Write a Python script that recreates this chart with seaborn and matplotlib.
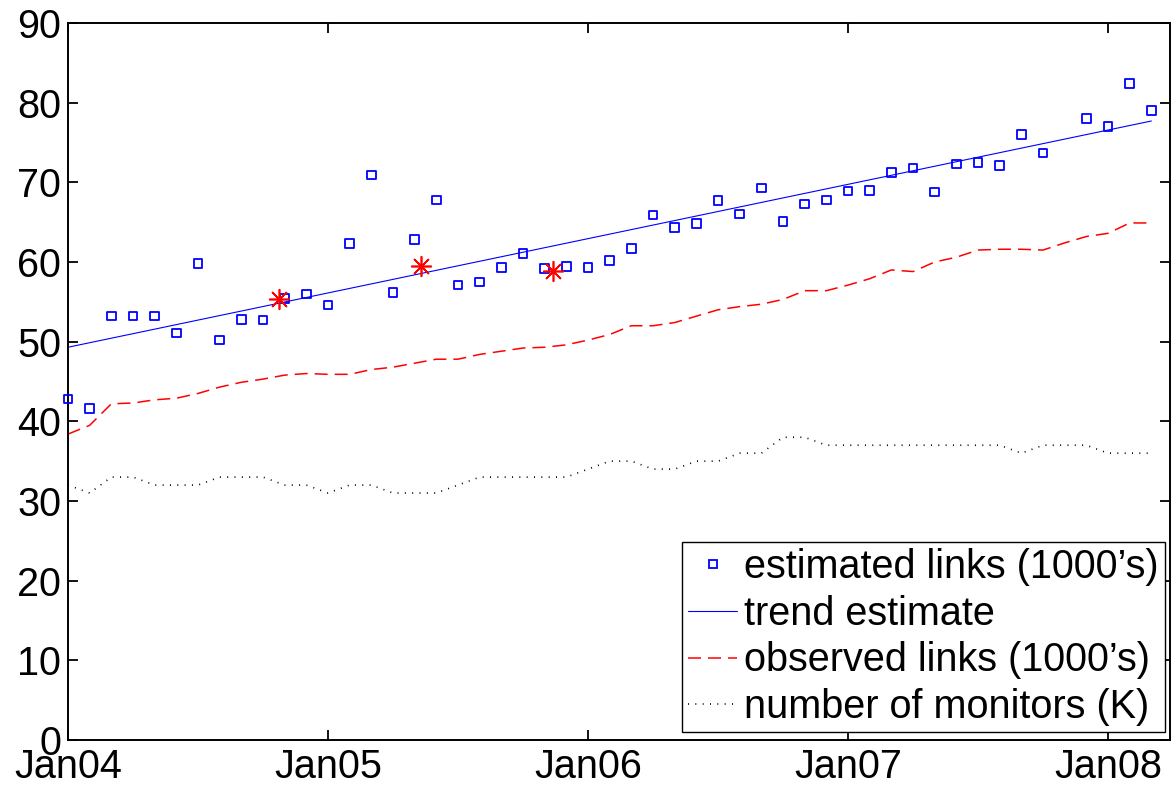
import matplotlib
matplotlib.use("Agg")
import matplotlib.pyplot as plt
from matplotlib.lines import Line2D
import seaborn as sns

# ---------------- data ----------------
tick_months = [0, 12, 24, 36, 48]
tick_labels = ["Jan04", "Jan05", "Jan06", "Jan07", "Jan08"]

est_months = list(range(0, 46)) + [47, 48, 49, 50]
est_links = [42.8, 41.6, 53.2, 53.2, 53.2, 51.1, 59.8, 50.2, 52.8, 52.7,
             55.4, 56.0, 54.6, 62.3, 70.9, 56.2, 62.8, 67.8, 57.1, 57.5,
             59.3, 61.1, 59.2, 59.4, 59.3, 60.2, 61.7, 65.9, 64.3, 64.8,
             67.7, 66.0, 69.3, 65.1, 67.3, 67.8, 68.9, 69.0, 71.2, 71.8,
             68.8, 72.3, 72.5, 72.1, 76.0, 73.7, 78.0, 77.0, 82.4, 79.0]

trend_months = [0, 50]
trend_vals = [49.3, 77.7]

obs_months = list(range(0, 51))
obs_links = [38.4, 39.5, 42.2, 42.3, 42.7, 42.9, 43.5, 44.3, 44.9, 45.3,
             45.8, 46.0, 45.9, 45.9, 46.5, 46.8, 47.3, 47.8, 47.8, 48.4,
             48.8, 49.2, 49.3, 49.6, 50.2, 50.9, 52.0, 52.0, 52.4, 53.2,
             54.0, 54.4, 54.7, 55.3, 56.4, 56.4, 57.1, 57.9, 59.0, 58.8,
             60.0, 60.6, 61.5, 61.6, 61.6, 61.5, 62.4, 63.2, 63.6, 64.9, 64.9]

monitors = [32, 31, 33, 33, 32, 32, 32, 33, 33, 33,
            32, 32, 31, 32, 32, 31, 31, 31, 32, 33,
            33, 33, 33, 33, 34, 35, 35, 34, 34, 35,
            35, 36, 36, 38, 38, 37, 37, 37, 37, 37,
            37, 37, 37, 37, 36, 37, 37, 37, 36, 36, 36]

star_months = [9.74, 16.3, 22.4]
star_vals = [55.4, 59.5, 58.9]

labels = ["estimated links (1000\u2019s)", "trend estimate",
          "observed links (1000\u2019s)", "number of monitors (K)"]

# ---------------- style ----------------
sns.set_style("ticks")
plt.rcParams["font.family"] = ["Liberation Sans", "DejaVu Sans"]
plt.rcParams["text.color"] = "black"
plt.rcParams["axes.labelcolor"] = "black"
FS = 28.5

fig = plt.figure(figsize=(11.71, 7.85), dpi=100)
ax = fig.add_axes([68 / 1171, 45 / 785, 1102 / 1171, 717 / 785])

dash_style = (0, (8.5, 4.6))
dot_style = (0, (0.6, 3.8))

sns.lineplot(x=obs_months, y=monitors, ax=ax, color="black",
             linewidth=1.2, linestyle=dot_style)
sns.lineplot(x=obs_months, y=obs_links, ax=ax, color="red",
             linewidth=1.1, linestyle=dash_style)
sns.lineplot(x=trend_months, y=trend_vals, ax=ax, color="blue",
             linewidth=0.8)
sns.scatterplot(x=est_months, y=est_links, ax=ax, marker="s", s=38,
                facecolor="none", edgecolor="blue", linewidth=1.3,
                clip_on=False, zorder=3)
sns.scatterplot(x=star_months, y=star_vals, ax=ax, marker=(8, 2, 0), s=200,
                color="red", edgecolor="red", linewidth=1.2, zorder=4)

ax.set_xlim(0, 50.86)
ax.set_ylim(0, 90)
ax.set_xticks(tick_months)
ax.set_xticklabels(tick_labels)
ax.set_yticks(range(0, 91, 10))
ax.set_xlabel("")
ax.set_ylabel("")

for sp in ax.spines.values():
    sp.set_visible(True)
    sp.set_linewidth(1.4)
    sp.set_color("black")

ax.tick_params(axis="both", direction="in", length=7.5, width=1.3,
               top=True, right=True, labelsize=FS, colors="black")
ax.tick_params(axis="y", pad=5)
ax.tick_params(axis="x", pad=6)

handles = [
    Line2D([], [], color="blue", marker="s", linestyle="none",
           markerfacecolor="none", markersize=6, markeredgewidth=1.3),
    Line2D([], [], color="blue", linewidth=0.8),
    Line2D([], [], color="red", linewidth=1.1, linestyle=dash_style),
    Line2D([], [], color="black", linewidth=1.2, linestyle=dot_style),
]
leg = ax.legend(handles, labels, loc="lower right",
                bbox_to_anchor=((1165 - 68) / 1102, (740 - 732) / 717),
                fontsize=FS, frameon=True, fancybox=False, shadow=False,
                framealpha=1, edgecolor="black", handlelength=1.25,
                handletextpad=0.18, borderpad=0.15, labelspacing=0.22,
                borderaxespad=0.0)
leg.get_frame().set_linewidth(1.0)
for t in leg.get_texts():
    t.set_color("black")

fig.savefig("out.png", dpi=100)
